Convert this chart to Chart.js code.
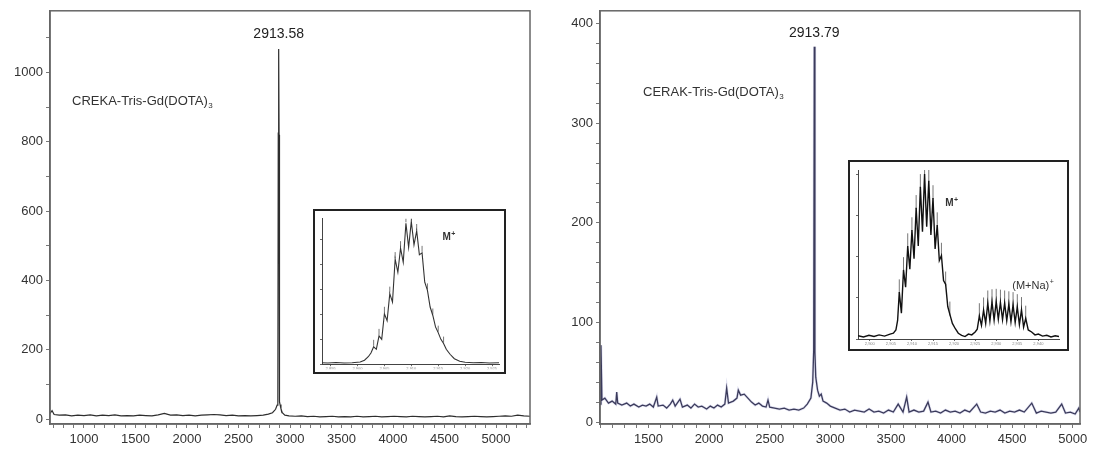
<!DOCTYPE html>
<html>
<head>
<meta charset="utf-8">
<script src="https://cdn.jsdelivr.net/npm/chart.js@4/dist/chart.umd.min.js"></script>
<style>
  body { margin: 0; background: #fff; }
  #page { position: relative; width: 1100px; height: 454px; overflow: hidden; }
  .panel { position: absolute; top: 0; width: 550px; height: 454px; }
  .inset { position: absolute; box-sizing: border-box; border: 2px solid #222; background: #fff; }
  canvas { display: block; }
</style>
</head>
<body>
<div id="page">
  <div class="panel" style="left:0"><canvas id="left"></canvas></div>
  <div class="panel" style="left:550px"><canvas id="right"></canvas></div>
  <div class="inset" style="left:313px;top:209px;width:193px;height:165px"><canvas id="insetLeft"></canvas></div>
  <div class="inset" style="left:848px;top:160px;width:221px;height:191px"><canvas id="insetRight"></canvas></div>
</div>
<script>
// CREKA spectrum (m/z, counts)
const leftMz = [670, 690, 710, 760, 820, 880, 940, 1000, 1060, 1120,
  1180, 1240, 1300, 1360, 1420, 1480, 1540, 1600, 1660, 1720,
  1780, 1840, 1900, 1960, 2020, 2080, 2140, 2200, 2260, 2320,
  2380, 2440, 2500, 2560, 2620, 2680, 2740, 2790, 2830, 2860,
  2875, 2882, 2886, 2890, 2894, 2898, 2903, 2912, 2925, 2950,
  2990, 3050, 3110, 3170, 3230, 3290, 3350, 3410, 3470, 3530,
  3590, 3650, 3710, 3770, 3830, 3890, 3950, 4010, 4070, 4130,
  4190, 4250, 4310, 4370, 4430, 4490, 4550, 4610, 4670, 4730,
  4790, 4850, 4910, 4970, 5030, 5090, 5150, 5210, 5270, 5330];
const leftIntensity = [16, 24, 13, 11, 12, 9, 11, 10, 12, 9,
  11, 10, 12, 9, 10, 9, 11, 10, 9, 12,
  16, 11, 12, 10, 11, 9, 11, 12, 13, 12,
  10, 11, 9, 10, 9, 10, 11, 14, 18, 28,
  40, 46, 825, 1068, 820, 50, 42, 30, 18, 11,
  9, 8, 9, 7, 8, 6, 7, 8, 6, 7,
  6, 8, 6, 7, 8, 6, 7, 8, 7, 6,
  8, 7, 6, 7, 8, 6, 9, 7, 6, 7,
  8, 7, 6, 7, 8, 9, 8, 11, 9, 8];

// CERAK spectrum
const rightMz = [1100, 1108, 1116, 1140, 1170, 1200, 1230, 1238, 1246, 1280,
  1320, 1350, 1380, 1420, 1450, 1480, 1510, 1540, 1568, 1580,
  1620, 1650, 1680, 1700, 1720, 1760, 1780, 1820, 1850, 1880,
  1910, 1940, 1980, 2010, 2040, 2070, 2100, 2130, 2145, 2160,
  2200, 2230, 2241, 2260, 2290, 2320, 2350, 2380, 2410, 2440,
  2470, 2486, 2500, 2540, 2580, 2620, 2660, 2700, 2740, 2780,
  2810, 2840, 2855, 2863, 2868, 2873, 2880, 2895, 2910, 2925,
  2940, 2970, 3000, 3040, 3080, 3120, 3160, 3200, 3240, 3280,
  3320, 3360, 3400, 3440, 3480, 3520, 3560, 3600, 3630, 3650,
  3690, 3730, 3770, 3806, 3830, 3870, 3910, 3950, 3990, 4030,
  4070, 4110, 4150, 4208, 4240, 4280, 4320, 4360, 4400, 4440,
  4480, 4520, 4560, 4600, 4662, 4700, 4740, 4780, 4820, 4860,
  4909, 4940, 4980, 5020, 5050, 5060];
const rightIntensity = [18, 77, 22, 24, 19, 21, 18, 30, 19, 17,
  19, 16, 18, 15, 17, 16, 18, 15, 25, 16,
  17, 14, 18, 22, 16, 23, 15, 17, 14, 18,
  15, 16, 13, 16, 14, 17, 15, 18, 34, 19,
  21, 24, 32, 27, 28, 24, 20, 17, 19, 16,
  15, 22, 15, 14, 13, 14, 12, 13, 12, 14,
  18, 24, 40, 72, 377, 70, 45, 32, 26, 28,
  21, 19, 16, 14, 12, 13, 10, 12, 11, 10,
  13, 10, 11, 9, 12, 10, 18, 10, 25, 10,
  12, 10, 11, 20, 10, 11, 9, 12, 10, 11,
  9, 12, 10, 18, 10, 9, 11, 10, 12, 9,
  11, 10, 12, 10, 19, 9, 11, 10, 9, 10,
  18, 9, 10, 8, 14, 10];

// insets: isotope patterns
const insetLeftMz = [2893.4, 2894.5, 2896, 2897.5, 2899, 2900.5, 2901.3, 2902, 2902.5, 2903,
  2903.5, 2904, 2904.5, 2905, 2905.5, 2906, 2906.5, 2907, 2907.5, 2908,
  2908.5, 2909, 2909.5, 2910, 2910.5, 2911, 2911.5, 2912, 2912.5, 2913,
  2913.5, 2914, 2914.5, 2915, 2915.5, 2916, 2916.5, 2917.2, 2918, 2919,
  2920, 2921.5, 2923, 2924.5, 2926.3];
const insetLeftIntensity = [6, 5, 7, 5, 6, 9, 16, 30, 45, 70,
  60, 114, 100, 203, 175, 284, 250, 423, 370, 467,
  410, 567, 470, 574, 480, 536, 440, 448, 330, 297,
  230, 196, 150, 127, 100, 83, 60, 40, 22, 12,
  8, 6, 7, 5, 6];

const insetRightMz = [2897.2, 2898.5, 2899.8, 2901, 2902.2, 2903.5, 2904.8, 2905.6, 2906.2, 2906.6,
  2907, 2907.5, 2908, 2908.5, 2909, 2909.5, 2910, 2910.5, 2911, 2911.5,
  2912, 2912.5, 2913, 2913.5, 2914, 2914.5, 2915, 2915.5, 2916, 2916.5,
  2917, 2917.5, 2918, 2918.5, 2919, 2919.6, 2920.3, 2921, 2921.8, 2922.6,
  2923.4, 2924.2, 2925, 2925.5, 2926, 2926.5, 2927, 2927.5, 2928, 2928.5,
  2929, 2929.5, 2930, 2930.5, 2931, 2931.5, 2932, 2932.5, 2933, 2933.5,
  2934, 2934.5, 2935, 2935.5, 2936, 2936.5, 2937, 2937.6, 2938.4, 2939.2,
  2940, 2941, 2942, 2943, 2944, 2944.9];
const insetRightIntensity = [8, 5, 9, 6, 10, 7, 12, 14, 22, 45,
  114, 63, 168, 126, 226, 170, 265, 195, 319, 226,
  370, 261, 401, 273, 385, 253, 343, 219, 277, 191,
  203, 142, 133, 79, 60, 38, 25, 14, 9, 6,
  12, 10, 17, 24, 56, 33, 70, 38, 87, 44,
  90, 46, 91, 48, 89, 47, 87, 45, 85, 42,
  83, 40, 78, 35, 71, 29, 50, 22, 17, 10,
  12, 7, 9, 5, 8, 6];

const FONT = '"Liberation Sans", Arial, Helvetica, sans-serif';
Chart.defaults.font.family = FONT;
Chart.defaults.font.size = 13;
Chart.defaults.color = '#333';

const toPoints = (xs, ys) => xs.map((x, i) => ({ x: x, y: ys[i] }));

// one tick per step inside the axis range (labels chosen by the callback)
const stepTicks = step => sc => {
  const out = [];
  for (let v = Math.ceil(sc.min / step) * step; v <= sc.max + 1e-9; v += step) {
    out.push({ value: Math.round(v * 1000) / 1000 });
  }
  sc.ticks = out;
};

// box around the plot area
function framePlugin(color, width) {
  return {
    id: 'frame',
    afterDraw(chart) {
      const { ctx, chartArea: a } = chart;
      ctx.save();
      ctx.strokeStyle = color;
      ctx.lineWidth = width;
      ctx.strokeRect(a.left, a.top, a.right - a.left, a.bottom - a.top);
      ctx.restore();
    }
  };
}

// text placed in data coordinates, with optional sub/superscript
function notesPlugin(items) {
  return {
    id: 'notes',
    afterDatasetsDraw(chart) {
      const { ctx, scales } = chart;
      ctx.save();
      ctx.textBaseline = 'middle';
      ctx.textAlign = 'left';
      items.forEach(n => {
        const px = scales.x.getPixelForValue(n.x);
        const py = scales.y.getPixelForValue(n.y);
        const weight = n.weight || 'normal';
        ctx.fillStyle = n.color || '#333';
        ctx.font = weight + ' ' + n.size + 'px ' + FONT;
        const w = ctx.measureText(n.text).width;
        const x0 = n.align === 'center' ? px - w / 2 : px;
        ctx.fillText(n.text, x0, py);
        const small = weight + ' ' + Math.round(n.size * 0.65) + 'px ' + FONT;
        if (n.sub) {
          ctx.font = small;
          ctx.fillText(n.sub, x0 + w + 0.5, py + n.size * 0.32);
        }
        if (n.sup) {
          ctx.font = small;
          ctx.fillText(n.sup, x0 + w + 0.5, py - n.size * 0.35);
        }
      });
      ctx.restore();
    }
  };
}

function spectrum(id, mz, intensity, s) {
  const pts = toPoints(mz, intensity);
  const datasets = [];
  if (s.halo) {
    datasets.push({ data: pts, borderColor: s.halo, borderWidth: 2.6, pointRadius: 0, tension: 0 });
  }
  datasets.push({ data: pts, borderColor: s.color, borderWidth: s.lineWidth, pointRadius: 0, tension: 0 });
  return new Chart(document.getElementById(id), {
    type: 'line',
    data: { datasets: datasets },
    options: {
      responsive: true,
      maintainAspectRatio: false,
      animation: false,
      events: [],
      layout: { padding: { top: 9, right: 20, left: 0, bottom: 0 } },
      plugins: { legend: { display: false }, tooltip: { enabled: false } },
      scales: {
        x: {
          type: 'linear',
          min: s.xMin,
          max: s.xMax,
          afterFit: sc => { sc.height = 30; },
          afterBuildTicks: stepTicks(100),
          border: { color: '#666', width: 1.5 },
          grid: { drawOnChartArea: false, drawTicks: true, tickLength: 4, color: '#777' },
          ticks: {
            autoSkip: false,
            maxRotation: 0,
            padding: 4,
            callback: v => (v % 500 === 0 ? String(v) : '')
          }
        },
        y: {
          min: s.yMin,
          max: s.yMax,
          afterFit: sc => { sc.width = 50; },
          afterBuildTicks: stepTicks(s.yStep),
          border: { color: '#666', width: 1.5 },
          grid: { drawOnChartArea: false, drawTicks: true, tickLength: 4, color: '#777' },
          ticks: {
            autoSkip: false,
            padding: 3,
            callback: v => (v % s.yLabelEvery === 0 ? String(v) : '')
          }
        }
      }
    },
    plugins: [framePlugin('#666', 1.5), notesPlugin(s.notes)]
  });
}

function inset(id, mz, intensity, s) {
  const peaks = mz
    .map((x, i) => ({ x: x, y: intensity[i] }))
    .filter(p => Number.isInteger(p.x) && p.y > s.markMin)
    .map(p => ({ x: p.x, y: p.y + s.markLift }));
  return new Chart(document.getElementById(id), {
    type: 'line',
    data: {
      datasets: [{
        data: toPoints(mz, intensity),
        borderColor: s.color,
        borderWidth: s.lineWidth,
        pointRadius: 0,
        tension: 0
      }, {
        data: peaks,
        showLine: false,
        pointStyle: 'line',
        pointRotation: 90,
        pointRadius: s.markRadius,
        pointBorderColor: '#777',
        pointBorderWidth: 1
      }]
    },
    options: {
      responsive: true,
      maintainAspectRatio: false,
      animation: false,
      events: [],
      layout: { padding: { top: 1, right: s.padRight, left: 0, bottom: 0 } },
      plugins: { legend: { display: false }, tooltip: { enabled: false } },
      scales: {
        x: {
          type: 'linear',
          min: s.xMin,
          max: s.xMax,
          afterFit: sc => { sc.height = s.xAxisHeight; },
          afterBuildTicks: stepTicks(5),
          border: { color: '#444', width: 1 },
          grid: { drawOnChartArea: false, tickLength: 2, color: '#666' },
          ticks: { maxRotation: 0, autoSkip: false, padding: 0, font: { size: 4 }, color: '#888' }
        },
        y: {
          min: 0,
          max: s.yMax,
          afterFit: sc => { sc.width = 7; },
          afterBuildTicks: stepTicks(100),
          border: { color: '#444', width: 1 },
          grid: { drawOnChartArea: false, tickLength: 2, color: '#666' },
          ticks: { autoSkip: false, padding: 0, callback: () => '' }
        }
      }
    },
    plugins: [notesPlugin(s.notes)]
  });
}

spectrum('left', leftMz, leftIntensity, {
  color: '#2e2e2e', lineWidth: 1.2,
  xMin: 670, xMax: 5330, yMin: -14.4, yMax: 1178, yStep: 100, yLabelEvery: 200,
  notes: [
    { x: 2890, y: 1112, text: '2913.58', size: 14, align: 'center', color: '#222' },
    { x: 884, y: 917, text: 'CREKA-Tris-Gd(DOTA)', sub: '3', size: 13 }
  ]
});

spectrum('right', rightMz, rightIntensity, {
  color: '#15152a', lineWidth: 1.3, halo: 'rgba(150,150,205,0.3)',
  xMin: 1100, xMax: 5060, yMin: -2, yMax: 413, yStep: 20, yLabelEvery: 100,
  notes: [
    { x: 2868, y: 391, text: '2913.79', size: 14, align: 'center', color: '#222' },
    { x: 1455, y: 331, text: 'CERAK-Tris-Gd(DOTA)', sub: '3', size: 13 }
  ]
});

inset('insetLeft', insetLeftMz, insetLeftIntensity, {
  color: '#333', lineWidth: 1.1, xMin: 2893.4, xMax: 2926.3, yMax: 585,
  padRight: 1, xAxisHeight: 5, markMin: 60, markLift: 16, markRadius: 3,
  notes: [{ x: 2915.8, y: 509, text: 'M', sup: '+', size: 10, weight: 'bold', color: '#333' }]
});

inset('insetRight', insetRightMz, insetRightIntensity, {
  color: '#111', lineWidth: 1.4, xMin: 2897.2, xMax: 2944.9, yMax: 411,
  padRight: 2, xAxisHeight: 10, markMin: 45, markLift: 14, markRadius: 7,
  notes: [
    { x: 2917.9, y: 330, text: 'M', sup: '+', size: 10, weight: 'bold', color: '#333' },
    { x: 2933.8, y: 130, text: '(M+Na)', sup: '+', size: 11, color: '#333' }
  ]
});
</script>
</body>
</html>
